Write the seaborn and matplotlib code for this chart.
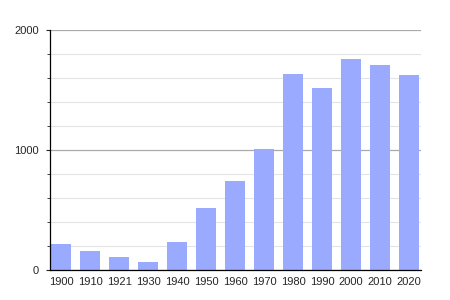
import matplotlib
matplotlib.use("Agg")
import matplotlib.pyplot as plt
import seaborn as sns
import pandas as pd
from matplotlib.ticker import MultipleLocator

years = ["1900", "1910", "1921", "1930", "1940", "1950", "1960", "1970",
         "1980", "1990", "2000", "2010", "2020"]
population = [217, 161, 108, 67, 236, 517, 742, 1008, 1633, 1517, 1758, 1708, 1625]

df = pd.DataFrame({"year": years, "pop": population})

sns.set_style("white")
plt.rcParams['font.family'] = ['Liberation Sans', 'DejaVu Sans']

fig = plt.figure(figsize=(4.5, 3), dpi=100)
ax = fig.add_axes([0.111, 0.1, 0.824, 0.8])

ax.set_axisbelow(True)
ax.grid(axis="y", which="minor", color="#e4e4e4", linewidth=0.8)
ax.grid(axis="y", which="major", color="#aaaaaa", linewidth=0.9)

sns.barplot(data=df, x="year", y="pop", color="#99aaff", width=0.69,
            saturation=1, ax=ax, linewidth=0, edgecolor="none")
for p in ax.patches:
    p.set_zorder(3)

ax.set_ylim(0, 2000)
ax.set_xlim(-0.39, 12.4)
ax.yaxis.set_major_locator(MultipleLocator(1000))
ax.yaxis.set_minor_locator(MultipleLocator(200))

for s in ["top", "right"]:
    ax.spines[s].set_visible(False)
ax.spines["left"].set_color("black")
ax.spines["bottom"].set_color("black")
ax.spines["left"].set_linewidth(0.9)
ax.spines["bottom"].set_linewidth(0.9)
ax.spines["left"].set_zorder(4)
ax.spines["bottom"].set_zorder(4)

ax.tick_params(axis="y", which="major", left=True, length=3, width=0.8,
               labelsize=8, pad=5)
ax.tick_params(axis="y", which="minor", left=True, length=2, width=0.6)
ax.tick_params(axis="x", bottom=False, labelsize=8, pad=1.5)
ax.set_xlabel("")
ax.set_ylabel("")

fig.savefig("out.png", dpi=100)
